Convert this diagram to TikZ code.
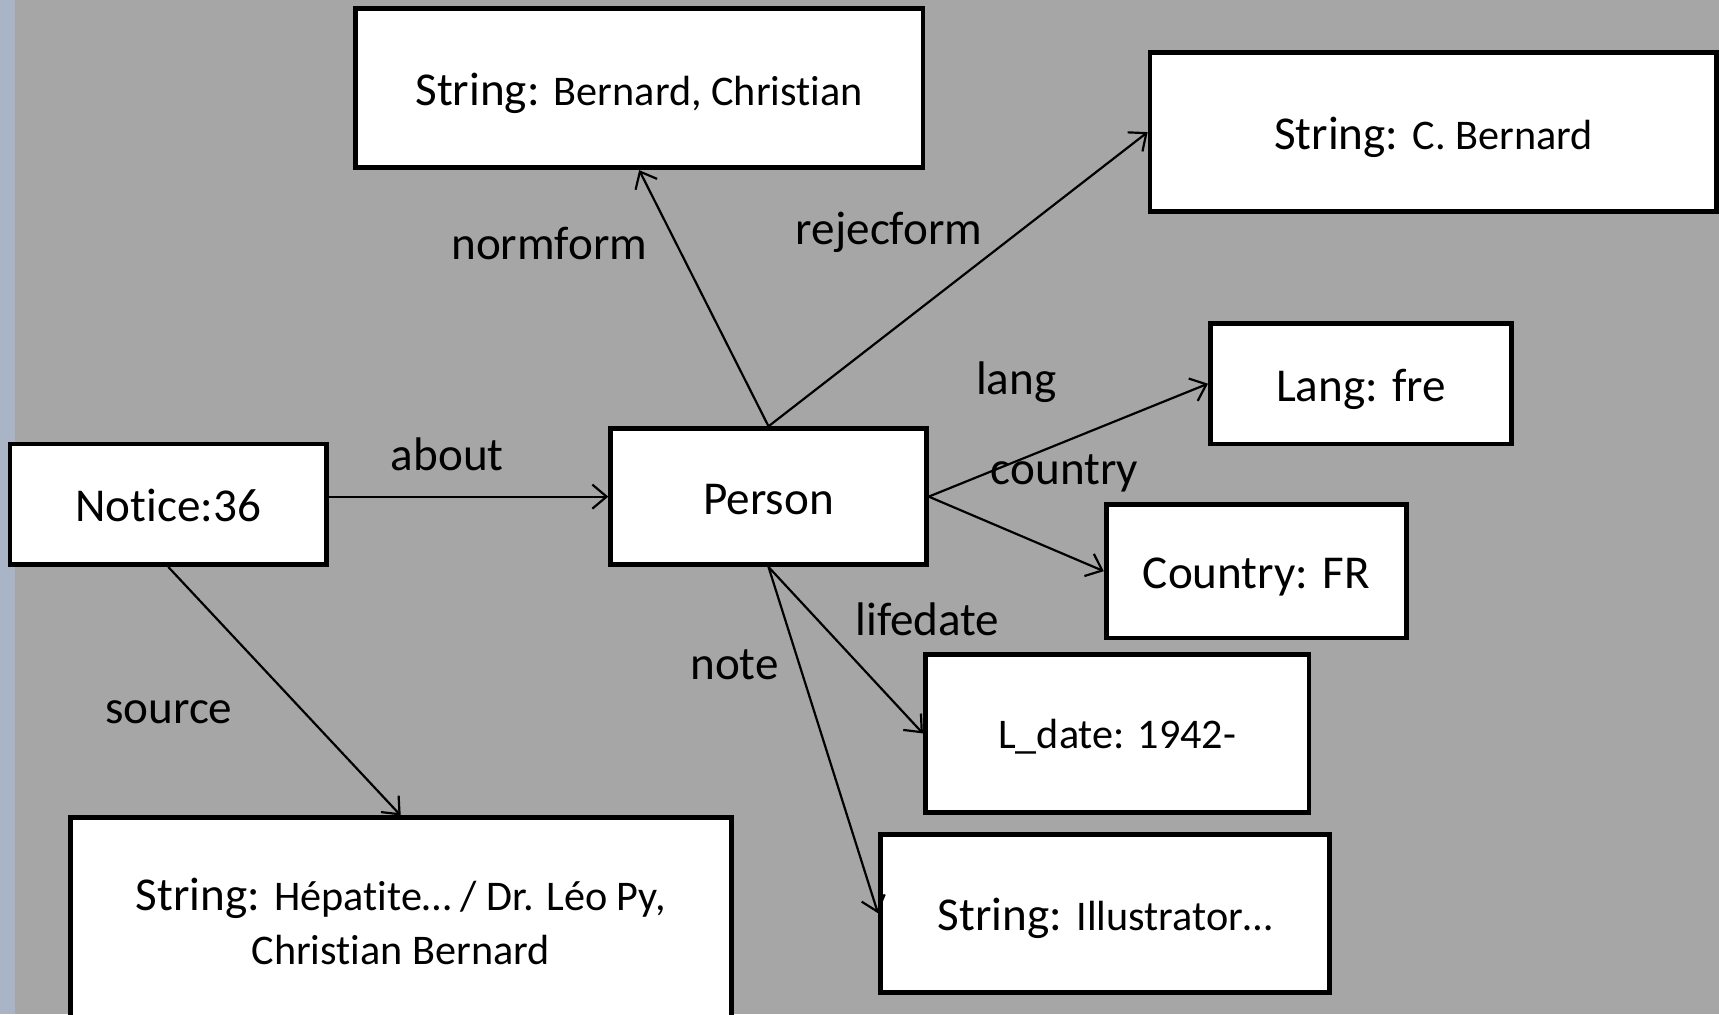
\documentclass[tikz,border=0pt]{standalone}
\usepackage{fontspec}
\setmainfont{Carlito}[Ligatures=NoCommon]
\usetikzlibrary{arrows.meta}
\definecolor{ColBack}{RGB}{166,166,166}
\definecolor{ColStrip}{RGB}{169,180,198}
\newcommand{\LabFont}{\fontsize{43}{50}\selectfont}
\newcommand{\ValFont}{\fontsize{38.5}{47}\selectfont}
\tikzstyle{NodeBox}=[rectangle,draw=black,fill=white,line width=4.3pt,inner sep=0pt,
font=\LabFont,align=center]
\tikzstyle{NodeLine}=[NodeBox,text height=36pt,text depth=4pt]
\tikzstyle{EdgeArrow}=[line width=2pt,-{Straight Barb[length=13pt,width=22pt,line width=2pt]}]
\tikzstyle{EdgeLabel}=[font=\LabFont,inner sep=0pt]
\begin{document}
\begin{tikzpicture}[x=1pt,y=-1pt]
        \fill[ColBack](0,0)rectangle(1568,925);
        \fill[ColStrip](0,0)rectangle(14,925);
        \useasboundingbox(0,0)rectangle(1568,925);
        \node[NodeLine,minimum width=289pt,minimum height=110pt](notice)at(153.5,460){Notice:36};
        \node[NodeLine,minimum width=288pt,minimum height=124pt](person)at(701,453){Person};
        \node[NodeLine,minimum width=518pt,minimum height=145pt](normstr)at(583,80.5){String: {\ValFont Bernard, Christian}};
        \node[NodeLine,minimum width=517pt,minimum height=145pt](rejstr)at(1307.5,120.5){String: {\ValFont C. Bernard}};
        \node[NodeLine,minimum width=275pt,minimum height=110pt](lang)at(1241.5,350){Lang: fre};
        \node[NodeLine,minimum width=274pt,minimum height=122pt](country)at(1146,521){Country: FR};
        \node[NodeLine,text height=32pt,minimum width=350pt,minimum height=144pt](ldate)at(1019,669){\ValFont L\_date: 1942-};
        \node[NodeLine,minimum width=410pt,minimum height=144pt](notestr)at(1008,833){String: {\ValFont Illustrator…}};
        \node[NodeBox,minimum width=603pt,minimum height=189pt](srcstr)at(365.5,840.5){String: {\ValFont Hépatite… / Dr. Léo Py,}\\{\ValFont Christian Bernard}};
        \draw[EdgeArrow](notice.east|-person.west)--(person.west);
        \draw[EdgeArrow](person.north)--(normstr.south);
        \draw[EdgeArrow](person.north)--(rejstr.west);
        \draw[EdgeArrow](person.east)--(lang.west);
        \draw[EdgeArrow](person.east)--(country.west);
        \draw[EdgeArrow](person.south)--(ldate.west);
        \draw[EdgeArrow](person.south)--(notestr.west);
        \draw[EdgeArrow](notice.south)--(srcstr.north);
        \node[EdgeLabel](lAbout)at(408,414){about};
        \node[EdgeLabel](lNorm)at(501,222){normform};
        \node[EdgeLabel](lRejec)at(811,212){rejecform};
        \node[EdgeLabel](lLang)at(927,349){lang};
        \node[EdgeLabel](lCountry)at(971,432){country};
        \node[EdgeLabel](lLife)at(846,565){lifedate};
        \node[EdgeLabel](lNote)at(670,606){note};
        \node[EdgeLabel](lSource)at(154,650){source};
    \end{tikzpicture}
\end{document}
